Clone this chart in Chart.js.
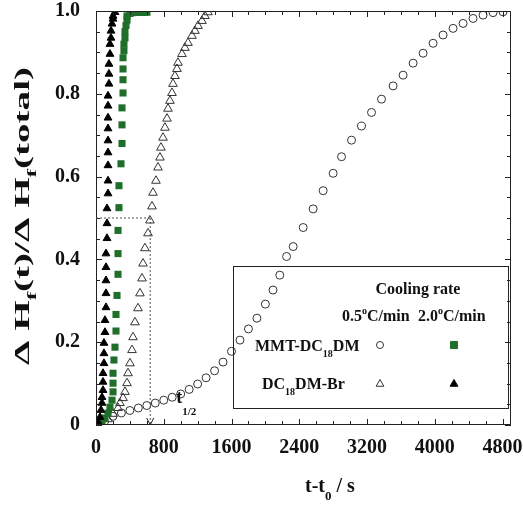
<!DOCTYPE html>
<html>
<head>
<meta charset="utf-8">
<script src="https://cdn.jsdelivr.net/npm/chart.js@4.4.1/dist/chart.umd.min.js"></script>
<style>
  html, body { margin: 0; padding: 0; background: #fff; }
</style>
</head>
<body>
<canvas id="dscChart" width="523" height="523"></canvas>
<script>
  // MMT-DC18DM, 0.5 C/min (open circles)
  const mmtSlowTime = [100, 200, 300, 400, 500, 600, 700, 800, 900, 1000, 1100, 1200, 1300, 1400, 1500, 1600,
    1700, 1800, 1900, 2000, 2090, 2170, 2250, 2328, 2446, 2564, 2682, 2800, 2899, 3017, 3135, 3253, 3371,
    3508, 3626, 3744, 3862, 3980, 4098, 4216, 4334, 4452, 4570, 4688, 4806];
  const mmtSlowFrac = [0.008, 0.021, 0.029, 0.035, 0.041, 0.047, 0.053, 0.060, 0.067, 0.075, 0.086, 0.099, 0.114,
    0.131, 0.152, 0.178, 0.205, 0.232, 0.258, 0.292, 0.326, 0.362, 0.407, 0.431, 0.477, 0.522, 0.566, 0.608,
    0.648, 0.688, 0.722, 0.755, 0.787, 0.819, 0.845, 0.874, 0.898, 0.922, 0.942, 0.958, 0.970, 0.982, 0.990,
    0.996, 0.998];

  // MMT-DC18DM, 2.0 C/min (green squares)
  const mmtFastTime = [71, 106, 142, 165, 189, 201, 201, 201, 212, 224, 236, 236, 248, 260, 260, 260, 271, 271,
    295, 307, 307, 307, 319, 319, 319, 319, 330, 330, 342, 342, 354, 366, 366, 401, 437, 460, 496, 519, 555, 578, 602];
  const mmtFastFrac = [0.007, 0.017, 0.029, 0.043, 0.060, 0.080, 0.101, 0.125, 0.157, 0.188, 0.227, 0.267, 0.313,
    0.364, 0.414, 0.470, 0.525, 0.578, 0.631, 0.680, 0.725, 0.766, 0.802, 0.834, 0.860, 0.887, 0.904, 0.920,
    0.935, 0.950, 0.965, 0.978, 0.988, 0.994, 0.996, 0.997, 0.997, 0.997, 0.997, 0.997, 0.997];

  // DC18DM-Br, 0.5 C/min (open triangles)
  const brSlowTime = [142, 201, 260, 283, 319, 342, 366, 378, 401, 425, 437, 460, 496, 519, 543, 555, 578, 614,
    637, 661, 673, 708, 732, 755, 767, 791, 814, 838, 850, 873, 897, 909, 932, 956, 968, 1015, 1050, 1086,
    1133, 1168, 1204, 1251, 1286, 1322];
  const brSlowFrac = [0.014, 0.027, 0.041, 0.053, 0.065, 0.080, 0.101, 0.125, 0.149, 0.181, 0.212, 0.248, 0.282,
    0.318, 0.354, 0.390, 0.427, 0.463, 0.494, 0.528, 0.561, 0.590, 0.622, 0.646, 0.670, 0.694, 0.718, 0.740,
    0.764, 0.783, 0.802, 0.824, 0.843, 0.860, 0.875, 0.896, 0.911, 0.923, 0.940, 0.952, 0.964, 0.976, 0.988, 0.997];

  // DC18DM-Br, 2.0 C/min (filled triangles)
  const brFastTime = [24, 47, 59, 71, 71, 83, 83, 83, 94, 94, 94, 106, 106, 118, 118, 118, 118, 118, 130, 130, 130,
    142, 142, 142, 142, 142, 142, 142, 142, 142, 153, 153, 153, 165, 165, 177, 177, 189, 201, 201, 224];
  const brFastFrac = [0.007, 0.019, 0.036, 0.053, 0.067, 0.084, 0.104, 0.125, 0.149, 0.173, 0.198, 0.224, 0.253,
    0.284, 0.318, 0.349, 0.381, 0.414, 0.451, 0.487, 0.523, 0.559, 0.590, 0.627, 0.658, 0.687, 0.716, 0.742,
    0.771, 0.795, 0.824, 0.848, 0.872, 0.896, 0.920, 0.935, 0.952, 0.969, 0.981, 0.988, 0.997];

  const xTicks = [0, 800, 1600, 2400, 3200, 4000, 4800];
  const yTicks = [0, 0.2, 0.4, 0.6, 0.8, 1.0];
  const xMinorStep = 200;
  const yMinorStep = 0.05;
  const halfTime = 640;   // t1/2 marked on the plot
  const halfFrac = 0.5;

  const SERIF = '"Liberation Serif", "Times New Roman", serif';
  const GREEN = '#1f6f2b';
  const INK = '#222';

  const pts = (xs, ys) => xs.map((x, i) => ({ x: x, y: ys[i] }));

  // text with sub/superscripts: parts = [[text, size, dy], ...]
  function richWidth(c, parts) {
    let w = 0;
    parts.forEach(p => {
      c.font = `bold ${p[1]}px ${SERIF}`;
      w += c.measureText(p[0]).width;
    });
    return w;
  }
  function drawRich(c, parts, x, y) {
    let cx = x;
    parts.forEach(p => {
      c.font = `bold ${p[1]}px ${SERIF}`;
      c.fillText(p[0], cx, y + (p[2] || 0));
      cx += c.measureText(p[0]).width;
    });
  }

  // keep the plot box where the layout padding puts it
  const noPad = s => { s.paddingTop = 0; s.paddingBottom = 0; s.paddingLeft = 0; s.paddingRight = 0; };

  const decor = {
    id: 'decor',
    afterDatasetsDraw(chart) {
      const c = chart.ctx;
      const a = chart.chartArea;
      const xs = chart.scales.x, ys = chart.scales.y;
      c.save();

      // frame
      c.strokeStyle = INK;
      c.lineWidth = 1;
      c.strokeRect(a.left + 0.5, a.top + 0.5, a.right - a.left - 1, a.bottom - a.top - 1);

      // inward ticks on all four sides
      c.beginPath();
      for (let v = 0; v <= 4800; v += xMinorStep) {
        const px = Math.round(xs.getPixelForValue(v)) + 0.5;
        const len = v % 800 === 0 ? 6 : 4;
        c.moveTo(px, a.bottom); c.lineTo(px, a.bottom - len);
        c.moveTo(px, a.top); c.lineTo(px, a.top + len);
      }
      for (let k = 0; k <= 20; k++) {
        const v = k * yMinorStep;
        const py = Math.round(ys.getPixelForValue(v)) + 0.5;
        const len = k % 4 === 0 ? 6 : 4;
        c.moveTo(a.left, py); c.lineTo(a.left + len, py);
        c.moveTo(a.right, py); c.lineTo(a.right - len, py);
      }
      c.stroke();

      // t1/2 guide lines
      const hx = xs.getPixelForValue(halfTime);
      const hy = ys.getPixelForValue(halfFrac);
      const y0 = ys.getPixelForValue(0);
      c.strokeStyle = '#555';
      c.setLineDash([2, 2]);
      c.beginPath();
      c.moveTo(a.left, hy); c.lineTo(hx, hy);
      c.moveTo(hx, hy); c.lineTo(hx, y0);
      c.stroke();
      c.setLineDash([]);
      c.strokeStyle = INK;
      c.beginPath();
      c.moveTo(hx - 3.5, y0 - 7); c.lineTo(hx, y0); c.lineTo(hx + 3.5, y0 - 7);
      c.stroke();

      c.fillStyle = '#111';
      c.textBaseline = 'alphabetic';
      c.textAlign = 'left';
      drawRich(c, [['t', 18, 0], ['1/2', 11, 12]], hx + 26, y0 - 22);

      // legend box
      const bx = 233, by = 266, bw = 275, bh = 142;
      c.strokeStyle = INK;
      c.strokeRect(bx + 0.5, by + 0.5, bw, bh);
      c.font = `bold 16px ${SERIF}`;
      c.textAlign = 'center';
      c.fillText('Cooling rate', 418, 294);
      c.textAlign = 'left';
      drawRich(c, [['0.5', 16, 0], ['o', 10, -7], ['C/min', 16, 0]], 342, 321);
      drawRich(c, [['2.0', 16, 0], ['o', 10, -7], ['C/min', 16, 0]], 418, 321);
      drawRich(c, [['MMT-DC', 16, 0], ['18', 10, 6], ['DM', 16, 0]], 255, 351);
      drawRich(c, [['DC', 16, 0], ['18', 10, 6], ['DM-Br', 16, 0]], 262, 389);

      const marks = [
        { x: 380, y: 345, style: 'circle', r: 3.5, fill: 'rgba(0,0,0,0)', stroke: '#333' },
        { x: 454, y: 345, style: 'rect', r: 5, fill: GREEN, stroke: GREEN },
        { x: 380, y: 384, style: 'triangle', r: 4.5, fill: 'rgba(0,0,0,0)', stroke: '#333' },
        { x: 454, y: 384, style: 'triangle', r: 4.5, fill: '#000', stroke: '#000' }
      ];
      marks.forEach(m => {
        c.fillStyle = m.fill;
        c.strokeStyle = m.stroke;
        c.lineWidth = 1;
        Chart.helpers.drawPoint(c, { pointStyle: m.style, radius: m.r, rotation: 0, borderWidth: 1 }, m.x, m.y);
      });

      // x axis title
      c.fillStyle = '#111';
      drawRich(c, [['t-t', 20, 0], ['0', 13, 8], [' / s', 20, 0]], 305, 492);

      // y axis title, rotated
      const yParts = [['\u0394 H', 20, 0], ['f', 13, 7], ['(t)/\u0394 H', 20, 0], ['f', 13, 7], ['(total)', 20, 0]];
      const w = richWidth(c, yParts);
      const target = 298;
      c.translate(22, 216);
      c.rotate(-Math.PI / 2);
      c.scale(target / w, 1);
      drawRich(c, yParts, -w / 2, 7);

      c.restore();
    }
  };

  const tickFont = { family: SERIF, size: 20, weight: 'bold' };

  new Chart(document.getElementById('dscChart'), {
    type: 'scatter',
    data: {
      datasets: [
        { label: 'DC18DM-Br 2.0', data: pts(brFastTime, brFastFrac), pointStyle: 'triangle', pointRadius: 4.5,
          backgroundColor: '#000', borderColor: '#000', borderWidth: 1 },
        { label: 'MMT-DC18DM 2.0', data: pts(mmtFastTime, mmtFastFrac), pointStyle: 'rect', pointRadius: 5,
          backgroundColor: GREEN, borderColor: GREEN, borderWidth: 0 },
        { label: 'DC18DM-Br 0.5', data: pts(brSlowTime, brSlowFrac), pointStyle: 'triangle', pointRadius: 5,
          backgroundColor: 'rgba(0,0,0,0)', borderColor: '#333', borderWidth: 1 },
        { label: 'MMT-DC18DM 0.5', data: pts(mmtSlowTime, mmtSlowFrac), pointStyle: 'circle', pointRadius: 4,
          backgroundColor: 'rgba(0,0,0,0)', borderColor: '#333', borderWidth: 1 }
      ]
    },
    options: {
      responsive: false,
      animation: false,
      events: [],
      layout: { padding: { top: 11, right: 12, left: 0, bottom: 0 } },
      plugins: { legend: { display: false }, tooltip: { enabled: false } },
      scales: {
        x: {
          type: 'linear',
          min: 0,
          max: 4900,
          grid: { display: false },
          border: { display: false },
          afterBuildTicks: s => { s.ticks = xTicks.map(v => ({ value: v })); },
          afterFit: s => { s.height = 98; noPad(s); },
          ticks: { font: tickFont, color: '#111', padding: 3, maxRotation: 0, autoSkip: false,
            callback: v => String(v) }
        },
        y: {
          min: 0,
          max: 1.0,
          grid: { display: false },
          border: { display: false },
          afterBuildTicks: s => { s.ticks = yTicks.map(v => ({ value: v })); },
          afterFit: s => { s.width = 96; noPad(s); },
          ticks: { font: tickFont, color: '#111', padding: 8,
            callback: v => (v === 0 ? '0' : v.toFixed(1)) }
        }
      }
    },
    plugins: [decor]
  });
</script>
</body>
</html>
